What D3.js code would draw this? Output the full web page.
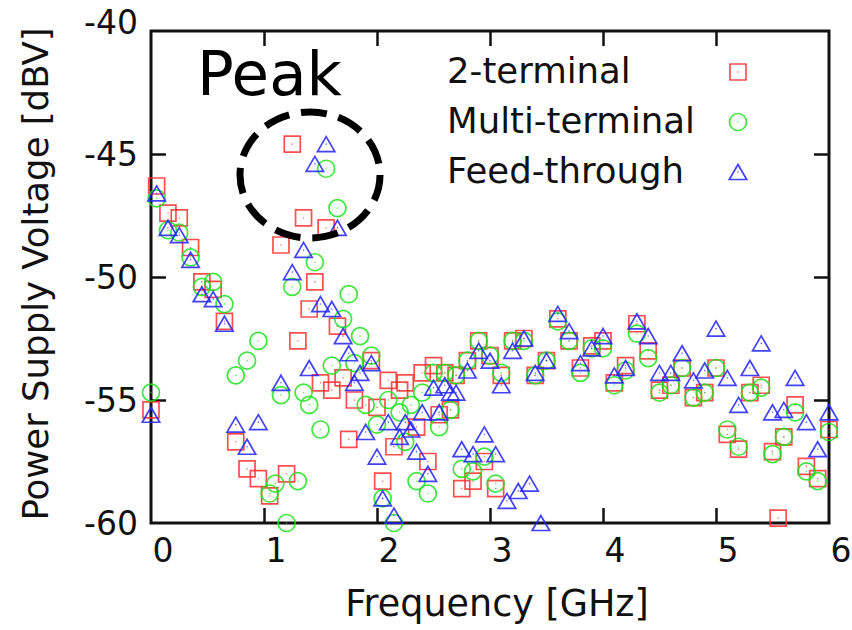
<!DOCTYPE html>
<html>
<head>
<meta charset="utf-8">
<script src="https://cdn.jsdelivr.net/npm/d3@7"></script>
<style>
  html, body { margin: 0; padding: 0; background: #fff; }
  svg { display: block; }
</style>
</head>
<body>
<svg id="chart" width="852" height="630"></svg>
<script>
// ---------- data ----------
const xTicks = [0, 1, 2, 3, 4, 5, 6];
const yTicks = [-60, -55, -50, -45, -40];
const seriesNames = ["2-terminal", "Multi-terminal", "Feed-through"];
const xTitle = "Frequency [GHz]";
const yTitle = "Power Supply Voltage [dBV]";
const annotation = "Peak";

// [frequency GHz, voltage dBV]
const twoTerminal = [
  [0,-55.4],[0.05,-46.3],[0.15,-47.4],[0.25,-47.6],[0.35,-48.8],[0.45,-50.2],[0.55,-50.5],[0.65,-51.8],
  [0.75,-56.7],[0.85,-57.8],[0.95,-58.2],[1.05,-58.9],[1.15,-48.7],[1.2,-58.0],[1.25,-44.6],[1.3,-52.6],
  [1.35,-47.6],[1.4,-51.3],[1.45,-50.2],[1.5,-54.3],[1.55,-48.0],[1.6,-54.6],[1.65,-52.0],[1.7,-54.1],
  [1.75,-56.6],[1.8,-55.0],[1.95,-53.4],[2.0,-55.3],[2.05,-58.3],[2.1,-54.2],[2.15,-56.9],[2.2,-54.6],
  [2.25,-54.3],[2.35,-56.1],[2.4,-53.9],[2.45,-57.5],[2.5,-53.6],[2.55,-55.6],[2.6,-53.9],[2.65,-55.4],
  [2.7,-54.0],[2.75,-58.6],[2.8,-53.4],[2.85,-58.3],[2.9,-52.6],[2.95,-57.5],[3.0,-53.2],[3.05,-58.6],
  [3.1,-54.0],[3.2,-52.6],[3.3,-52.5],[3.4,-54.0],[3.5,-53.4],[3.6,-51.7],[3.7,-52.6],[3.8,-53.7],
  [3.9,-52.8],[4.0,-52.6],[4.1,-54.3],[4.2,-53.6],[4.3,-51.9],[4.4,-53.0],[4.5,-54.6],[4.6,-54.4],
  [4.7,-53.7],[4.8,-54.9],[4.9,-54.7],[5.0,-53.7],[5.1,-56.4],[5.2,-57.0],[5.3,-54.7],[5.4,-54.4],
  [5.5,-57.1],[5.55,-59.8],[5.6,-56.5],[5.7,-55.2],[5.8,-57.7],[5.9,-58.2],[6.0,-56.2]
];
const multiTerminal = [
  [0,-54.7],[0.05,-46.8],[0.15,-48.1],[0.25,-48.2],[0.35,-49.2],[0.45,-50.4],[0.55,-50.2],[0.65,-51.1],
  [0.75,-54.0],[0.85,-53.4],[0.95,-52.6],[1.05,-58.8],[1.1,-58.4],[1.15,-54.8],[1.2,-60.0],[1.25,-50.4],
  [1.3,-58.3],[1.35,-54.7],[1.4,-55.2],[1.45,-49.4],[1.5,-56.2],[1.55,-45.6],[1.6,-53.6],[1.65,-47.2],
  [1.7,-51.7],[1.75,-50.7],[1.8,-53.5],[1.85,-52.4],[1.9,-55.2],[1.95,-53.2],[2.0,-56.0],[2.05,-59.0],
  [2.1,-55.0],[2.15,-60.0],[2.2,-55.5],[2.25,-56.7],[2.3,-55.2],[2.35,-58.3],[2.4,-54.7],[2.45,-58.8],
  [2.5,-53.9],[2.55,-56.1],[2.6,-53.9],[2.65,-55.4],[2.7,-54.0],[2.75,-57.8],[2.8,-53.4],[2.85,-57.9],
  [2.9,-52.6],[2.95,-57.3],[3.0,-53.2],[3.05,-58.4],[3.1,-53.9],[3.2,-52.6],[3.3,-52.6],[3.4,-54.0],
  [3.5,-53.4],[3.6,-51.8],[3.7,-52.6],[3.8,-53.9],[3.9,-52.9],[4.0,-52.9],[4.1,-54.4],[4.2,-53.8],
  [4.3,-52.3],[4.4,-53.3],[4.5,-54.7],[4.6,-54.4],[4.7,-53.7],[4.8,-54.9],[4.9,-54.7],[5.0,-53.7],
  [5.1,-56.2],[5.2,-56.9],[5.3,-54.7],[5.4,-54.5],[5.5,-57.2],[5.6,-56.5],[5.7,-55.5],[5.8,-57.9],
  [5.9,-58.3],[6.0,-56.3]
];
const feedThrough = [
  [0,-55.6],[0.05,-46.6],[0.15,-48.0],[0.25,-48.3],[0.35,-49.3],[0.45,-50.7],[0.55,-50.9],[0.65,-51.9],
  [0.75,-56.0],[0.85,-56.9],[0.95,-55.9],[1.15,-54.3],[1.25,-49.8],[1.35,-48.9],[1.4,-53.7],[1.45,-45.4],
  [1.5,-51.1],[1.55,-44.6],[1.6,-51.3],[1.65,-48.0],[1.7,-52.4],[1.75,-53.1],[1.8,-54.3],[1.85,-53.9],
  [1.9,-56.3],[1.95,-53.5],[2.0,-57.3],[2.05,-59.0],[2.1,-55.9],[2.15,-59.7],[2.2,-56.5],[2.25,-55.9],
  [2.3,-56.2],[2.35,-57.1],[2.4,-55.5],[2.45,-58.0],[2.5,-54.5],[2.55,-55.5],[2.6,-54.4],[2.65,-54.7],
  [2.7,-54.7],[2.75,-57.0],[2.8,-53.8],[2.85,-57.2],[2.9,-53.0],[2.95,-56.4],[3.0,-53.4],[3.05,-57.2],
  [3.1,-54.4],[3.15,-59.1],[3.2,-53.0],[3.25,-58.7],[3.3,-52.5],[3.35,-58.4],[3.4,-53.9],[3.45,-60.0],
  [3.5,-53.4],[3.6,-51.5],[3.7,-52.2],[3.8,-53.5],[3.9,-52.9],[4.0,-52.4],[4.1,-54.0],[4.2,-53.7],
  [4.3,-51.8],[4.4,-52.4],[4.5,-53.9],[4.6,-53.9],[4.7,-53.1],[4.8,-54.2],[4.9,-53.8],[5.0,-52.1],
  [5.1,-54.1],[5.2,-55.2],[5.3,-53.7],[5.4,-52.7],[5.5,-55.5],[5.6,-55.4],[5.7,-54.1],[5.8,-55.9],
  [5.9,-57.0],[6.0,-55.5]
];

// ---------- layout ----------
const svg = d3.select("#chart");
const L = 151, R = 829, T = 31, B = 523;
const x = d3.scaleLinear().domain([0, 6]).range([L, R]);
const y = d3.scaleLinear().domain([-60, -40]).range([B, T]);
const FONT = "'DejaVu Sans', sans-serif";

const colors = ["#ff3030", "#1ee01e", "#2222ff"];
const shapes = ["square", "circle", "triangle"];

function markerPath(shape) {
  if (shape === "square") return "M-8,-8H8V8H-8Z";
  if (shape === "circle") return "M8.5,0A8.5,8.5 0 1,1 -8.5,0A8.5,8.5 0 1,1 8.5,0Z";
  return "M0,-7.5L8.7,7.5H-8.7Z";
}

// ---------- axes (frame with mirrored inward ticks) ----------
const tickLen = 15;
const axes = svg.append("g");
axes.append("g").attr("transform", `translate(0,${B})`)
  .call(d3.axisBottom(x).tickValues(xTicks).tickSize(-tickLen).tickFormat(""))
  .call(g => g.select(".domain").remove());
axes.append("g").attr("transform", `translate(0,${T})`)
  .call(d3.axisTop(x).tickValues(xTicks).tickSize(-tickLen).tickFormat(""))
  .call(g => g.select(".domain").remove());
axes.append("g").attr("transform", `translate(${L},0)`)
  .call(d3.axisLeft(y).tickValues(yTicks).tickSize(-tickLen).tickFormat(""))
  .call(g => g.select(".domain").remove());
axes.append("g").attr("transform", `translate(${R},0)`)
  .call(d3.axisRight(y).tickValues(yTicks).tickSize(-tickLen).tickFormat(""))
  .call(g => g.select(".domain").remove());
axes.selectAll(".tick line").attr("stroke", "#111").attr("stroke-width", 2.5);
// remove ticks that coincide with the frame edges
axes.selectAll(".tick").filter(d => d === 0 || d === 6 || d === -60 || d === -40).remove();

svg.append("rect")
  .attr("x", L).attr("y", T).attr("width", R - L).attr("height", B - T)
  .attr("fill", "none").attr("stroke", "#111").attr("stroke-width", 3);

// tick labels
svg.append("g").selectAll("text").data(xTicks).join("text")
  .attr("x", d => x(d) + 12).attr("y", 562)
  .attr("text-anchor", "middle")
  .attr("font-family", FONT).attr("font-size", 33).attr("fill", "#111")
  .text(d => d);
svg.append("g").selectAll("text").data(yTicks).join("text")
  .attr("x", 138).attr("y", d => y(d) + (d === -40 ? -9 : 0))
  .attr("dy", "0.36em")
  .attr("text-anchor", "end")
  .attr("font-family", FONT).attr("font-size", 33).attr("fill", "#111")
  .text(d => d);

// axis titles
svg.append("text")
  .attr("x", 497).attr("y", 616)
  .attr("text-anchor", "middle")
  .attr("font-family", FONT).attr("font-size", 36.5).attr("fill", "#111")
  .text(xTitle);
svg.append("text")
  .attr("transform", "translate(48,274) rotate(-90)")
  .attr("text-anchor", "middle")
  .attr("font-family", FONT).attr("font-size", 35.5).attr("fill", "#111")
  .text(yTitle);

// ---------- points ----------
const allSeries = [twoTerminal, multiTerminal, feedThrough];
allSeries.forEach((data, i) => {
  const g = svg.append("g");
  const pts = g.selectAll("g").data(data).join("g")
    .attr("transform", d => `translate(${x(d[0])},${y(d[1])})`);
  pts.append("path")
    .attr("d", markerPath(shapes[i]))
    .attr("fill", "none")
    .attr("stroke", colors[i])
    .attr("stroke-width", 1.7)
    .attr("stroke-opacity", 0.85);
  pts.append("circle").attr("r", 0.8).attr("fill", colors[i]).attr("opacity", 0.7);
});

// ---------- legend ----------
const legendY = [70, 120, 170];
const leg = svg.append("g");
seriesNames.forEach((name, i) => {
  leg.append("text")
    .attr("x", 447).attr("y", legendY[i]).attr("dy", "0.36em")
    .attr("font-family", FONT).attr("font-size", 35.5).attr("fill", "#111")
    .text(name);
  const m = leg.append("g").attr("transform", `translate(738,${legendY[i] + 2})`);
  m.append("path").attr("d", markerPath(shapes[i]))
    .attr("fill", "none").attr("stroke", colors[i]).attr("stroke-width", 1.7).attr("stroke-opacity", 0.85);
  m.append("circle").attr("r", 0.8).attr("fill", colors[i]).attr("opacity", 0.7);
});

// ---------- annotation ----------
svg.append("text")
  .attr("x", 197).attr("y", 95)
  .attr("font-family", FONT).attr("font-size", 61).attr("fill", "#000")
  .text(annotation);
svg.append("ellipse")
  .attr("cx", 310).attr("cy", 175).attr("rx", 70).attr("ry", 63)
  .attr("fill", "none").attr("stroke", "#000").attr("stroke-width", 7)
  .attr("stroke-dasharray", "26 12");
</script>
</body>
</html>
